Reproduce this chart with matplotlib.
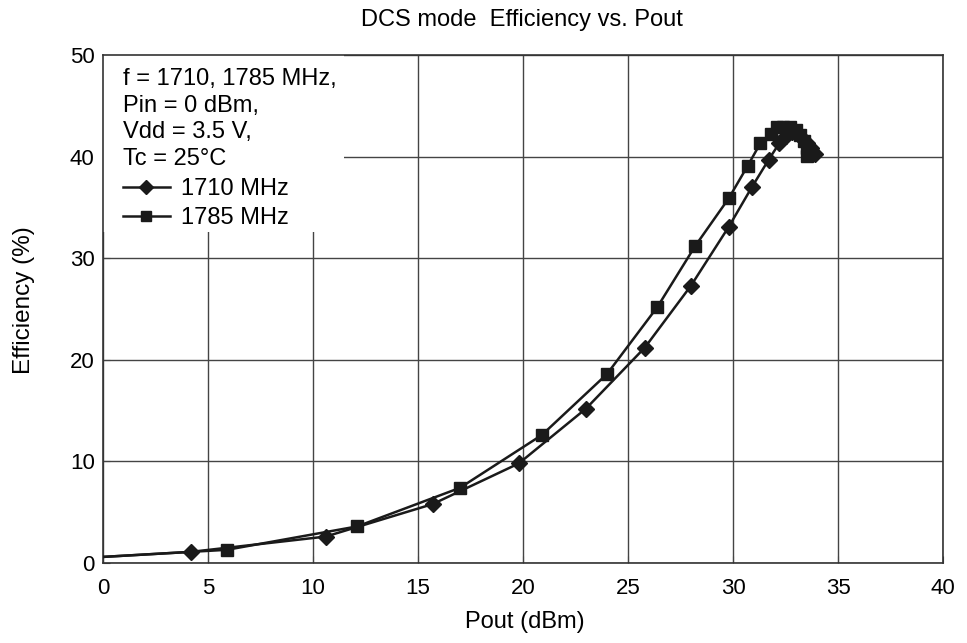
import matplotlib
matplotlib.use('Agg')
from matplotlib import pyplot as plt
from matplotlib.lines import Line2D
from matplotlib.patches import Rectangle

plt.rcParams['font.family'] = ['Liberation Sans', 'DejaVu Sans']

# 1710 MHz (diamonds)
pout_1710 = [0.0, 4.2, 10.6, 15.7, 19.8, 23.0, 25.8, 28.0, 29.8, 30.9, 31.7, 32.2,
             32.5, 32.8, 33.1, 33.3, 33.5, 33.7, 33.9]
eff_1710 = [0.6, 1.1, 2.6, 5.8, 9.8, 15.2, 21.2, 27.3, 33.1, 37.0, 39.7, 41.3,
            42.0, 42.4, 42.2, 41.8, 41.3, 40.8, 40.3]

# 1785 MHz (squares)
pout_1785 = [0.0, 5.9, 12.1, 17.0, 20.9, 24.0, 26.4, 28.2, 29.8, 30.7, 31.3, 31.8,
             32.1, 32.4, 32.7, 33.0, 33.2, 33.4, 33.5, 33.5]
eff_1785 = [0.6, 1.3, 3.6, 7.4, 12.6, 18.6, 25.2, 31.2, 35.9, 39.1, 41.3, 42.2,
            42.9, 42.9, 42.9, 42.6, 42.1, 41.5, 40.8, 40.1]

conditions = ['f = 1710, 1785 MHz,', 'Pin = 0 dBm,', 'Vdd = 3.5 V,', 'Tc = 25\u00b0C']

fig = plt.figure(figsize=(9.67, 6.43), dpi=100)
ax = fig.add_axes([0.1065, 0.1244, 0.8687, 0.7901])

ax.plot(pout_1710, eff_1710, color='#1a1a1a', lw=1.8, marker='D', ms=8,
        markevery=range(1, len(pout_1710)), zorder=3)
ax.plot(pout_1785, eff_1785, color='#1a1a1a', lw=1.8, marker='s', ms=8,
        markevery=range(1, len(pout_1785)), zorder=3)

ax.set_xlim(0, 40)
ax.set_ylim(0, 50)
ax.set_xticks(range(0, 41, 5))
ax.set_yticks(range(0, 51, 10))
ax.grid(color='#444444', lw=1)
ax.tick_params(direction='in', labelsize=16, length=5, color='#444444')
ax.tick_params(axis='x', pad=11)
ax.tick_params(axis='y', pad=6)
for s in ax.spines.values():
    s.set_color('#333333')
    s.set_linewidth(1.2)

ax.set_xlabel('Pout (dBm)', fontsize=17)
ax.xaxis.set_label_coords(0.502, -0.094)
ax.set_ylabel('Efficiency (%)', fontsize=17.5)
ax.yaxis.set_label_coords(-0.081, 0.518)
fig.text(0.540, 0.986, 'DCS mode  Efficiency vs. Pout', ha='center', va='top', fontsize=17)

# white box behind the conditions / legend
ax.add_patch(Rectangle((0, 0.652), 0.2875, 0.348, transform=ax.transAxes,
                       facecolor='white', edgecolor='none', zorder=2))

handles = [Line2D([], [], color='#1a1a1a', lw=1.8, marker='D', ms=7),
           Line2D([], [], color='#1a1a1a', lw=1.8, marker='s', ms=7)]
leg = ax.legend(handles, ['1710 MHz', '1785 MHz'], title='\n'.join(conditions),
                loc='upper left', bbox_to_anchor=(0.008, 1.0), fontsize=17,
                title_fontsize=17, frameon=False, borderaxespad=0.3,
                handlelength=2.0, handletextpad=0.45, labelspacing=0.32,
                borderpad=0.25)
leg._legend_box.align = 'left'
leg.get_title().set_linespacing(1.28)

plt.savefig('out.png', dpi=100)
